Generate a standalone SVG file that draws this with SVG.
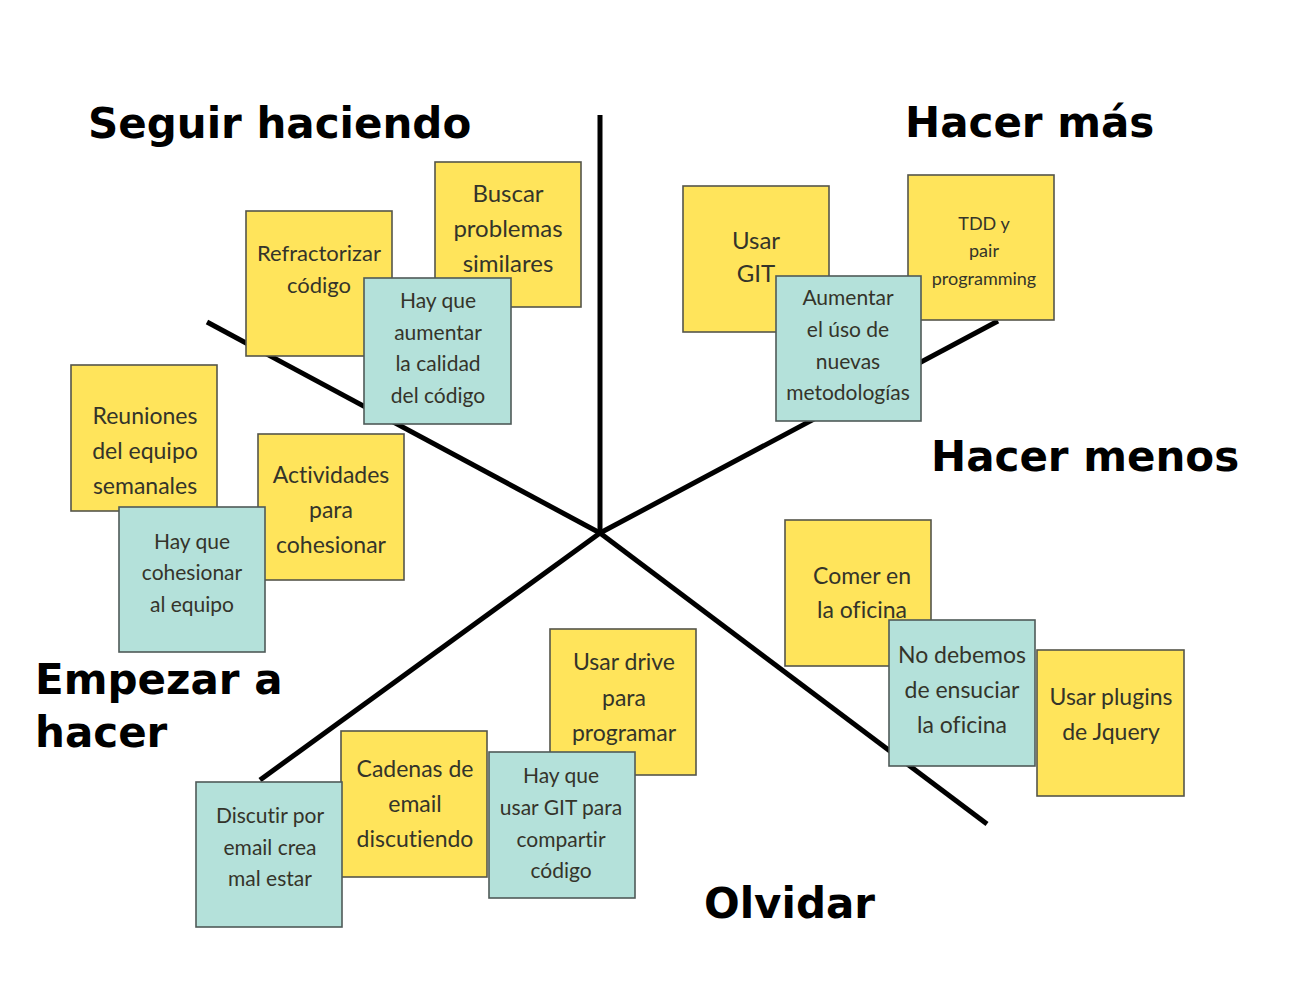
<svg xmlns="http://www.w3.org/2000/svg" width="1290" height="991" viewBox="0 0 1290 991">
<style>
.y{fill:#FFE45B;stroke:#55554a;stroke-width:1.6}
.t{fill:#B4E1DA;stroke:#4f5a58;stroke-width:1.6}
.n{font-family:Lato,"Open Sans","Liberation Sans",sans-serif;fill:#34342a;text-anchor:middle;font-variant-ligatures:none}
.h{font-family:"DejaVu Sans",Verdana,sans-serif;font-weight:bold;font-size:42px;fill:#000}
.ln{stroke:#000;stroke-width:5;stroke-linecap:butt;fill:none}
</style>
<rect width="1290" height="991" fill="#fff"/>
<g id="connectors">
<line class="ln" x1="600" y1="115" x2="600" y2="533"/>
<line class="ln" x1="207" y1="322" x2="600" y2="533"/>
<line class="ln" x1="600" y1="533" x2="998" y2="321"/>
<line class="ln" x1="600" y1="533" x2="260" y2="780"/>
<line class="ln" x1="600" y1="533" x2="987" y2="824"/>
</g>
<g id="headings">
<text class="h" x="88" y="138">Seguir haciendo</text>
<text class="h" x="905" y="137">Hacer más</text>
<text class="h" x="931" y="471">Hacer menos</text>
<text class="h" x="35" y="694">Empezar a</text>
<text class="h" x="35" y="747">hacer</text>
<text class="h" x="704" y="918">Olvidar</text>
</g>
<g id="buscar"><rect class="y" x="435" y="162" width="146" height="145"/>
<text class="n" font-size="24" x="508"><tspan x="508" y="202">Buscar</tspan><tspan x="508" y="237">problemas</tspan><tspan x="508" y="272">similares</tspan></text></g>
<g id="refractorizar"><rect class="y" x="246" y="211" width="146" height="145"/>
<text class="n" font-size="22" x="319"><tspan x="319" y="261">Refractorizar</tspan><tspan x="319" y="293">código</tspan></text></g>
<g id="calidad"><rect class="t" x="364" y="278" width="147" height="146"/>
<text class="n" font-size="21" x="438"><tspan x="438" y="308">Hay que</tspan><tspan x="438" y="340">aumentar</tspan><tspan x="438" y="371">la calidad</tspan><tspan x="438" y="403">del código</tspan></text></g>
<g id="usargit"><rect class="y" x="683" y="186" width="146" height="146"/>
<text class="n" font-size="24" x="756"><tspan x="756" y="249">Usar</tspan><tspan x="756" y="282">GIT</tspan></text></g>
<g id="tdd"><rect class="y" x="908" y="175" width="146" height="145"/>
<text class="n" font-size="18" x="981"><tspan x="984" y="230">TDD y</tspan><tspan x="984" y="257">pair</tspan><tspan x="984" y="285">programming</tspan></text></g>
<g id="metodologias"><rect class="t" x="776" y="276" width="145" height="145"/>
<text class="n" font-size="21" x="848"><tspan x="848" y="305">Aumentar</tspan><tspan x="848" y="337">el úso de</tspan><tspan x="848" y="369">nuevas</tspan><tspan x="848" y="400">metodologías</tspan></text></g>
<g id="reuniones"><rect class="y" x="71" y="365" width="146" height="146"/>
<text class="n" font-size="23" x="144"><tspan x="145" y="424">Reuniones</tspan><tspan x="145" y="459">del equipo</tspan><tspan x="145" y="494">semanales</tspan></text></g>
<g id="actividades"><rect class="y" x="258" y="434" width="146" height="146"/>
<text class="n" font-size="23" x="331"><tspan x="331" y="483">Actividades</tspan><tspan x="331" y="518">para</tspan><tspan x="331" y="553">cohesionar</tspan></text></g>
<g id="cohesionar"><rect class="t" x="119" y="507" width="146" height="145"/>
<text class="n" font-size="21" x="192"><tspan x="192" y="549">Hay que</tspan><tspan x="192" y="580">cohesionar</tspan><tspan x="192" y="612">al equipo</tspan></text></g>
<g id="comer"><rect class="y" x="785" y="520" width="146" height="146"/>
<text class="n" font-size="23" x="862"><tspan x="862" y="584">Comer en</tspan><tspan x="862" y="618">la oficina</tspan></text></g>
<g id="ensuciar"><rect class="t" x="889" y="620" width="146" height="146"/>
<text class="n" font-size="23" x="962"><tspan x="962" y="663">No debemos</tspan><tspan x="962" y="698">de ensuciar</tspan><tspan x="962" y="733">la oficina</tspan></text></g>
<g id="jquery"><rect class="y" x="1037" y="650" width="147" height="146"/>
<text class="n" font-size="23" x="1111"><tspan x="1111" y="705">Usar plugins</tspan><tspan x="1111" y="740">de Jquery</tspan></text></g>
<g id="drive"><rect class="y" x="550" y="629" width="146" height="146"/>
<text class="n" font-size="23" x="624"><tspan x="624" y="670">Usar drive</tspan><tspan x="624" y="706">para</tspan><tspan x="624" y="741">programar</tspan></text></g>
<g id="cadenas"><rect class="y" x="341" y="731" width="146" height="146"/>
<text class="n" font-size="23" x="415"><tspan x="415" y="777">Cadenas de</tspan><tspan x="415" y="812">email</tspan><tspan x="415" y="847">discutiendo</tspan></text></g>
<g id="gitcompartir"><rect class="t" x="489" y="752" width="146" height="146"/>
<text class="n" font-size="21" x="561"><tspan x="561" y="783">Hay que</tspan><tspan x="561" y="815">usar GIT para</tspan><tspan x="561" y="847">compartir</tspan><tspan x="561" y="878">código</tspan></text></g>
<g id="discutir"><rect class="t" x="196" y="782" width="146" height="145"/>
<text class="n" font-size="21" x="270"><tspan x="270" y="823">Discutir por</tspan><tspan x="270" y="855">email crea</tspan><tspan x="270" y="886">mal estar</tspan></text></g>
</svg>
